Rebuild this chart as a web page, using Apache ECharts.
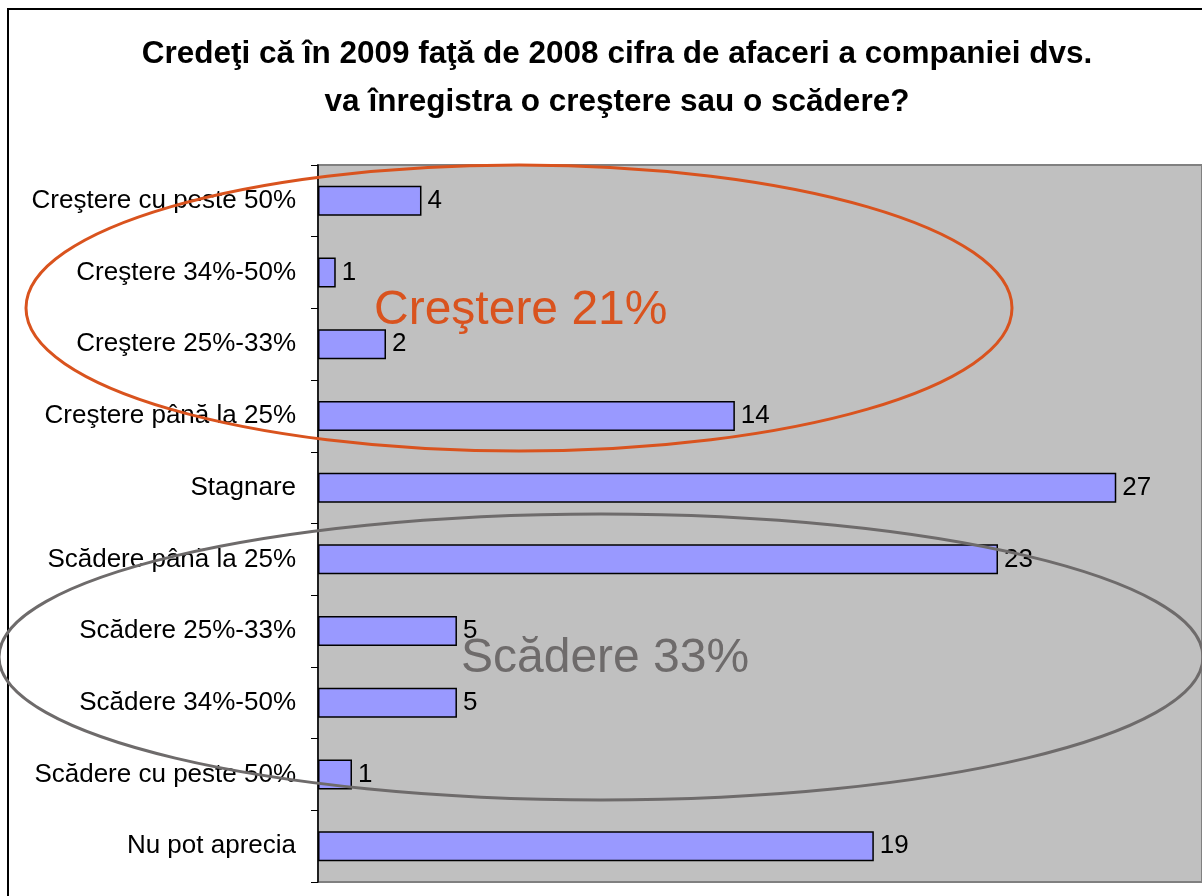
<!DOCTYPE html>
<html>
<head>
<meta charset="utf-8">
<script src="https://cdn.jsdelivr.net/npm/echarts@6/dist/echarts.min.js"></script>
<style>
html, body { margin: 0; padding: 0; background: #fff; }
#chart { width: 1202px; height: 896px; }
</style>
</head>
<body>
<div id="chart"></div>
<script>
// categories top to bottom
var categories = [
  'Creştere cu peste 50%',
  'Creştere 34%-50%',
  'Creştere 25%-33%',
  'Creştere până la 25%',
  'Stagnare',
  'Scădere până la 25%',
  'Scădere 25%-33%',
  'Scădere 34%-50%',
  'Scădere cu peste 50%',
  'Nu pot aprecia'
];
// percent shares, labels shown rounded
var shares = [3.5, 0.6, 2.3, 14.1, 27.0, 23.0, 4.7, 4.7, 1.15, 18.8];
var titleLines = [
  'Credeţi că în 2009 faţă de 2008 cifra de afaceri a companiei dvs.',
  'va înregistra o creştere sau o scădere?'
];
var groupNotes = ['Creştere 21%', 'Scădere 33%'];

var chart = echarts.init(document.getElementById('chart'));
var font = '"Liberation Sans", Arial, sans-serif';

var option = {
  animation: false,
  textStyle: { fontFamily: font },
  grid: {
    left: 318, top: 165, right: 0, height: 717,
    show: true,
    backgroundColor: '#C0C0C0',
    borderColor: '#808080',
    borderWidth: 2
  },
  xAxis: {
    type: 'value',
    min: 0,
    max: 29.9,
    show: false,
    splitLine: { show: false }
  },
  yAxis: {
    type: 'category',
    data: categories,
    inverse: true,
    axisLine: { show: true, lineStyle: { color: '#000', width: 1.5 } },
    axisTick: { show: true, length: 7, lineStyle: { color: '#000' } },
    axisLabel: { color: '#000', fontSize: 26, margin: 22, fontFamily: font }
  },
  series: [{
    type: 'bar',
    data: shares,
    barWidth: 30,
    itemStyle: { color: '#9999FF', borderColor: '#000', borderWidth: 1.5 },
    label: {
      show: true,
      position: 'right',
      distance: 6,
      color: '#000',
      fontSize: 26,
      fontFamily: font,
      formatter: function (p) { return Math.round(p.value); }
    }
  }],
  graphic: [
    {
      type: 'rect', z: 100, silent: true,
      shape: { x: 8, y: 9, width: 1400, height: 1000 },
      style: { fill: null, stroke: '#000', lineWidth: 2 }
    },
    {
      type: 'text', z: 100, silent: true,
      x: 617, y: 30,
      style: {
        text: titleLines.join('\n'),
        align: 'center', verticalAlign: 'top',
        font: 'bold 31.5px ' + font, lineHeight: 48, fill: '#000'
      }
    },
    {
      type: 'ellipse', z: 100, silent: true,
      shape: { cx: 519, cy: 308, rx: 493, ry: 143 },
      style: { fill: null, stroke: '#D9531E', lineWidth: 3 }
    },
    {
      type: 'ellipse', z: 100, silent: true,
      shape: { cx: 601, cy: 657, rx: 602, ry: 143 },
      style: { fill: null, stroke: '#6E6B6B', lineWidth: 3 }
    },
    {
      type: 'text', z: 100, silent: true,
      x: 374, y: 311,
      style: {
        text: groupNotes[0], align: 'left', verticalAlign: 'middle',
        font: '48px ' + font, fill: '#D9531E'
      }
    },
    {
      type: 'text', z: 100, silent: true,
      x: 461, y: 659,
      style: {
        text: groupNotes[1], align: 'left', verticalAlign: 'middle',
        font: '48px ' + font, fill: '#6E6B6B'
      }
    }
  ]
};

chart.setOption(option);
</script>
</body>
</html>
